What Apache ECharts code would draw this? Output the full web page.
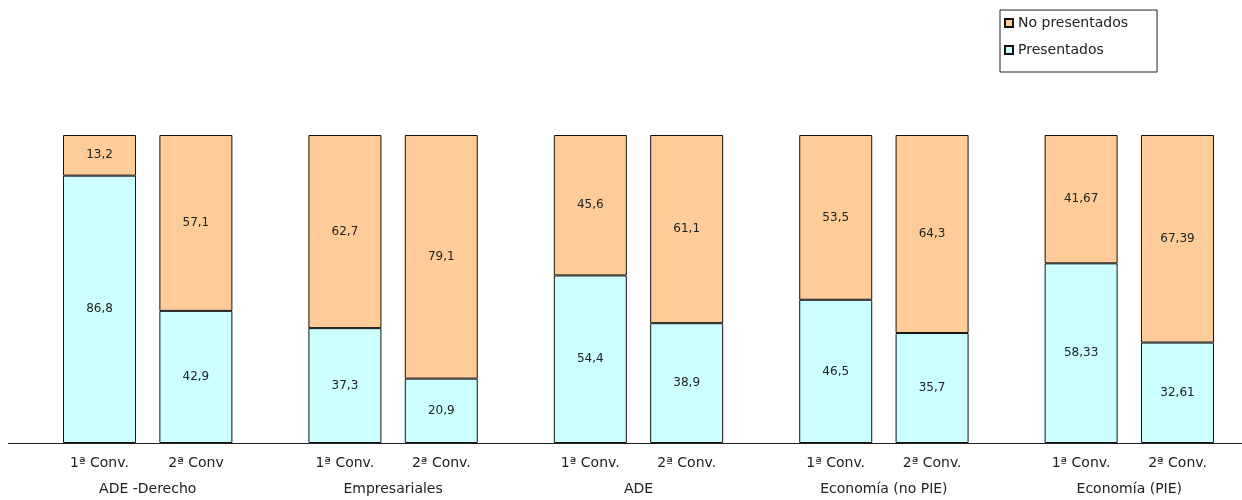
<!DOCTYPE html>
<html>
<head>
<meta charset="utf-8">
<script src="https://cdn.jsdelivr.net/npm/echarts@6/dist/echarts.min.js"></script>
<style>
  html, body { margin: 0; padding: 0; background: #fff; }
  #main { width: 1242px; height: 500px; }
</style>
</head>
<body>
<div id="main"></div>
<script>
// titulaciones (grupos)
var groups = ['ADE -Derecho', 'Empresariales', 'ADE', 'Economía (no PIE)', 'Economía (PIE)'];
// etiquetas de cada barra dentro del grupo
var conv1 = ['1ª Conv.', '1ª Conv.', '1ª Conv.', '1ª Conv.', '1ª Conv.'];
var conv2 = ['2ª Conv', '2ª Conv.', '2ª Conv.', '2ª Conv.', '2ª Conv.'];
// porcentajes 1ª convocatoria
var pres1 = [86.8, 37.3, 54.4, 46.5, 58.33];
var noPres1 = [13.2, 62.7, 45.6, 53.5, 41.67];
// porcentajes 2ª convocatoria
var pres2 = [42.9, 20.9, 38.9, 35.7, 32.61];
var noPres2 = [57.1, 79.1, 61.1, 64.3, 67.39];

var FONT = 'DejaVu Sans';
var cPres = '#CCFFFF';
var cNoPres = '#FFCC99';

function fmt(p) {
  return String(p.value).replace('.', ',');
}

function barSerie(name, data, stack, color) {
  return {
    name: name,
    type: 'bar',
    stack: stack,
    data: data,
    barWidth: 73,
    barGap: '32%',
    itemStyle: { color: color, borderColor: '#111', borderWidth: 1 },
    label: {
      show: true,
      position: 'inside',
      formatter: fmt,
      color: '#222',
      fontFamily: FONT,
      fontSize: 12
    },
    emphasis: { disabled: true }
  };
}

var myChart = echarts.init(document.getElementById('main'));

var option = {
  backgroundColor: '#fff',
  animation: false,
  legend: {
    data: ['No presentados', 'Presentados'],
    orient: 'vertical',
    left: 1000,
    top: 10,
    borderColor: '#222',
    borderWidth: 1,
    padding: [6, 29, 15, 4],
    itemWidth: 8,
    itemHeight: 8,
    itemGap: 13,
    icon: 'rect',
    textStyle: { fontFamily: FONT, fontSize: 14, lineHeight: 14, color: '#222' }
  },
  grid: { left: 25, width: 1227, top: 135, bottom: 57, containLabel: false, outerBoundsMode: 'none' },
  xAxis: {
    type: 'category',
    data: groups,
    axisLine: { show: false },
    axisTick: { show: false },
    axisLabel: {
      interval: 0,
      margin: 7,
      formatter: function (v, i) {
        return '{s|' + conv1[i] + '}{s|' + conv2[i] + '}\n{g|' + v + '}';
      },
      rich: {
        s: { width: 96.5, align: 'center', fontFamily: FONT, fontSize: 14, color: '#222', lineHeight: 26 },
        g: { width: 193, align: 'center', fontFamily: FONT, fontSize: 14, color: '#222', lineHeight: 26 }
      }
    }
  },
  yAxis: {
    type: 'value',
    min: 0,
    max: 100,
    show: false,
    splitLine: { show: false }
  },
  graphic: [{
    type: 'line',
    shape: { x1: 8, y1: 443.5, x2: 1242, y2: 443.5 },
    style: { stroke: '#222', lineWidth: 1.2 },
    z: 10
  }],
  series: [
    barSerie('Presentados', pres1, 'c1', cPres),
    barSerie('No presentados', noPres1, 'c1', cNoPres),
    barSerie('Presentados', pres2, 'c2', cPres),
    barSerie('No presentados', noPres2, 'c2', cNoPres)
  ]
};

myChart.setOption(option);
</script>
</body>
</html>
